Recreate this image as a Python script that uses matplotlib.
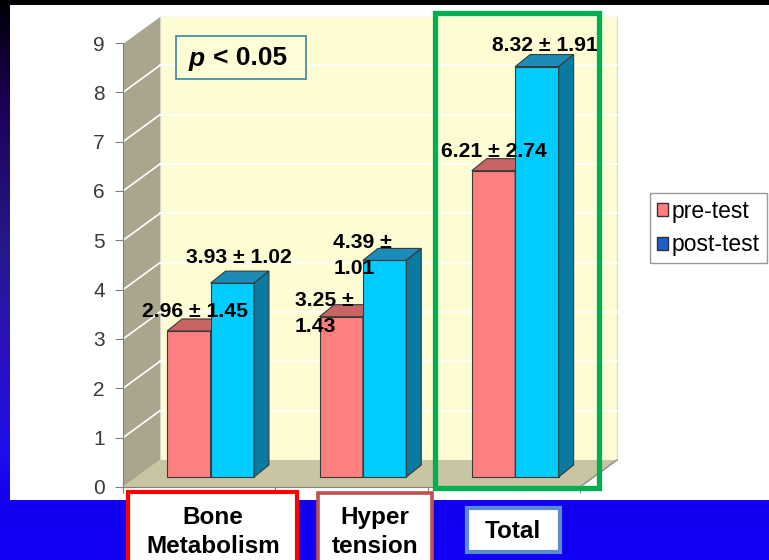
import numpy as np
import matplotlib
matplotlib.use("Agg")
import matplotlib.pyplot as plt
from matplotlib.patches import Rectangle, Polygon

# ---- data -------------------------------------------------------------
categories = ["Bone\nMetabolism", "Hyper\ntension", "Total"]
series_names = ["pre-test", "post-test"]
pre_mean = [2.96, 3.25, 6.21]
pre_sd = [1.45, 1.43, 2.74]
post_mean = [3.93, 4.39, 8.32]
post_sd = [1.02, 1.01, 1.91]
y_ticks = [0, 1, 2, 3, 4, 5, 6, 7, 8, 9]
p_text = "< 0.05"

# ---- figure / slide background ----------------------------------------
W, H = 769, 560
fig = plt.figure(figsize=(W / 100, H / 100), dpi=100)
plt.rcParams["font.family"] = ["Liberation Sans", "DejaVu Sans"]


def fx(x):
    return x / W


def fy(y):
    return 1 - y / H


def pixel_axes(z):
    a = fig.add_axes([0, 0, 1, 1], zorder=z)
    a.set_axis_off()
    a.set_xlim(0, W)
    a.set_ylim(H, 0)
    a.patch.set_visible(False)
    return a


bg = pixel_axes(-10)
rows = np.arange(H)
keys_y = [0, 20, 100, 250, 350, 450, 500, 560]
keys_c = np.array([[0, 0, 0], [5, 0, 20], [28, 0, 85], [38, 25, 140],
                   [44, 18, 190], [30, 16, 235], [20, 0, 240], [18, 0, 245]]) / 255
grad = np.stack([np.interp(rows, keys_y, keys_c[:, k]) for k in range(3)], axis=1)
img = np.repeat(grad[:, None, :], W, axis=1)
bg.imshow(img, extent=[0, W, H, 0], aspect="auto")
bg.set_xlim(0, W)
bg.set_ylim(H, 0)
# white chart panel
bg.add_patch(Rectangle((10, 5), W - 10, 495, facecolor="white", edgecolor="none"))

# ---- 3-D style column chart --------------------------------------------
ax = fig.add_axes([fx(123), fy(487), fx(580) - fx(123), fy(43) - fy(487)])
ax.set_xlim(0, 3)
ax.set_ylim(0, 9)
ax.patch.set_visible(False)

DX, DY = 0.243, 0.547        # depth of the box (category / value units)
ox, oy = 0.075, 0.203        # bar front-face offset into the box
bdx, bdy = 0.098, 0.243      # bar depth
w = 0.285                    # bar width

wall_c = "#fdfcd3"
side_wall_c = "#aaa68d"
floor_c = "#c9c4a2"
n = len(categories)
ymax = y_ticks[-1]

# back wall, side wall, floor
ax.add_patch(Rectangle((DX, DY), n, ymax, facecolor=wall_c, edgecolor="#d8d8d0",
                       lw=0.8, clip_on=False, zorder=1))
ax.add_patch(Polygon([(0, 0), (DX, DY), (DX, ymax + DY), (0, ymax)], closed=True,
                     facecolor=side_wall_c, edgecolor="none", clip_on=False, zorder=1))
ax.add_patch(Polygon([(0, 0), (n, 0), (n + DX, DY), (DX, DY)], closed=True,
                     facecolor=floor_c, edgecolor="none", clip_on=False, zorder=1))
for v in y_ticks[1:]:
    ax.plot([DX, n + DX], [v + DY, v + DY], color="white", lw=1.2,
            clip_on=False, zorder=1.5)
    ax.plot([0, DX], [v, v + DY], color="white", lw=1.2, clip_on=False, zorder=1.5)
ax.plot([n, n + DX], [0, DY], color="#8c8c8c", lw=1, clip_on=False, zorder=2)

pre_cols = ("#ff7f7f", "#c86464", "#b05050")
post_cols = ("#00ccff", "#1b8cb8", "#0a7ba0")
edge = "#3a3a3a"


def bar3d(xc, val, cols, z):
    front, top, side = cols
    x0, x1 = xc - w / 2, xc + w / 2
    ax.bar(xc, val, width=w, bottom=oy, color=front, edgecolor=edge, lw=0.8,
           zorder=z, clip_on=False)
    t = val + oy
    ax.add_patch(Polygon([(x0, t), (x1, t), (x1 + bdx, t + bdy), (x0 + bdx, t + bdy)],
                         closed=True, facecolor=top, edgecolor=edge, lw=0.8,
                         zorder=z, clip_on=False))
    ax.add_patch(Polygon([(x1, oy), (x1 + bdx, oy + bdy), (x1 + bdx, t + bdy), (x1, t)],
                         closed=True, facecolor=side, edgecolor=edge, lw=0.8,
                         zorder=z, clip_on=False))


x_idx = np.arange(n)
pre_x = x_idx + 0.5 + ox - w / 2
post_x = x_idx + 0.5 + ox + w / 2
for i in range(n):
    bar3d(pre_x[i], pre_mean[i], pre_cols, 3)
    bar3d(post_x[i], post_mean[i], post_cols, 4)

# axes lines and ticks
for s in ("top", "right"):
    ax.spines[s].set_visible(False)
for s in ("left", "bottom"):
    ax.spines[s].set_color("#808080")
    ax.spines[s].set_zorder(5)
ax.set_yticks(y_ticks)
ax.set_yticklabels([str(v) for v in y_ticks], fontsize=15, color="#3a3a3a")
ax.set_xticks(range(n + 1))
ax.set_xticklabels([])
ax.tick_params(axis="y", length=6, color="#808080", pad=7)
ax.tick_params(axis="x", length=4, color="#808080")

# value labels: (dx from bar centre, dy above value, ha, wrapped)
label_place = {
    (0, 0): (0.04, 0.59, "center", False),
    (0, 1): (0.04, 0.73, "center", False),
    (1, 0): (-0.303, 0.27, "left", True),
    (1, 1): (-0.338, 0.30, "left", True),
    (2, 0): (0.0, 0.60, "center", False),
    (2, 1): (0.05, 0.62, "center", False),
}
for i in range(n):
    for s, (xs, mean, sd) in enumerate([(pre_x, pre_mean, pre_sd),
                                        (post_x, post_mean, post_sd)]):
        dx, dy, ha, wrap = label_place[(i, s)]
        sep = " \u00b1\n" if wrap else " \u00b1 "
        txt = f"{mean[i]:.2f}{sep}{sd[i]:.2f}"
        ax.text(xs[i] + dx, mean[i] + dy, txt, ha=ha, va="center", fontsize=15.2,
                fontweight="bold", color="black", linespacing=1.45, zorder=8,
                clip_on=False)

# legend
handles = [Rectangle((0, 0), 1, 1, facecolor="#ff7f7f", edgecolor="#333333", lw=1),
           Rectangle((0, 0), 1, 1, facecolor="#1a5fd0", edgecolor="#333333", lw=1)]
leg = fig.legend(handles, series_names, loc="upper left",
                 bbox_to_anchor=(fx(650), fy(193)), fontsize=16.5, frameon=True,
                 fancybox=False, edgecolor="#808080", handlelength=0.5,
                 handleheight=0.5, handletextpad=0.15, borderpad=0.3,
                 labelspacing=0.45, borderaxespad=0)
leg.get_frame().set_linewidth(1)

# ---- overlay annotations ----------------------------------------------
ov = pixel_axes(20)

# p-value box
ov.add_patch(Rectangle((176, 36), 130, 43, facecolor="#fefdd6", edgecolor="#4a8ea4",
                       lw=1.3, zorder=6))
ov.text(205, 59, "p", fontsize=19, fontweight="bold", fontstyle="italic",
        ha="right", va="center", zorder=7)
ov.text(213, 58, p_text, fontsize=19, fontweight="bold", ha="left", va="center",
        zorder=7)

# highlight frame around the Total group
ov.add_patch(Rectangle((435, 13), 164, 475, facecolor="none", edgecolor="#00b050",
                       lw=3.8, zorder=9))

# category label boxes
cat_boxes = [((128, 492, 169, 80), "#ff0000", 3.0),
             ((318, 493, 114, 80), "#c0504d", 2.6),
             ((467, 508, 93, 44), "#5b8bd0", 3.0)]
for (x0, y0, bw, bh), ec, lw in cat_boxes:
    ov.add_patch(Rectangle((x0, y0), bw, bh, facecolor="white", edgecolor=ec, lw=lw,
                           zorder=6))
cat_text_pos = [(213, 532), (375, 532), (513, 531)]
for (tx, ty), name in zip(cat_text_pos, categories):
    ov.text(tx, ty, name, fontsize=17.5, fontweight="bold", ha="center", va="center",
            linespacing=1.3, zorder=7)

fig.savefig("out.png", dpi=100)
